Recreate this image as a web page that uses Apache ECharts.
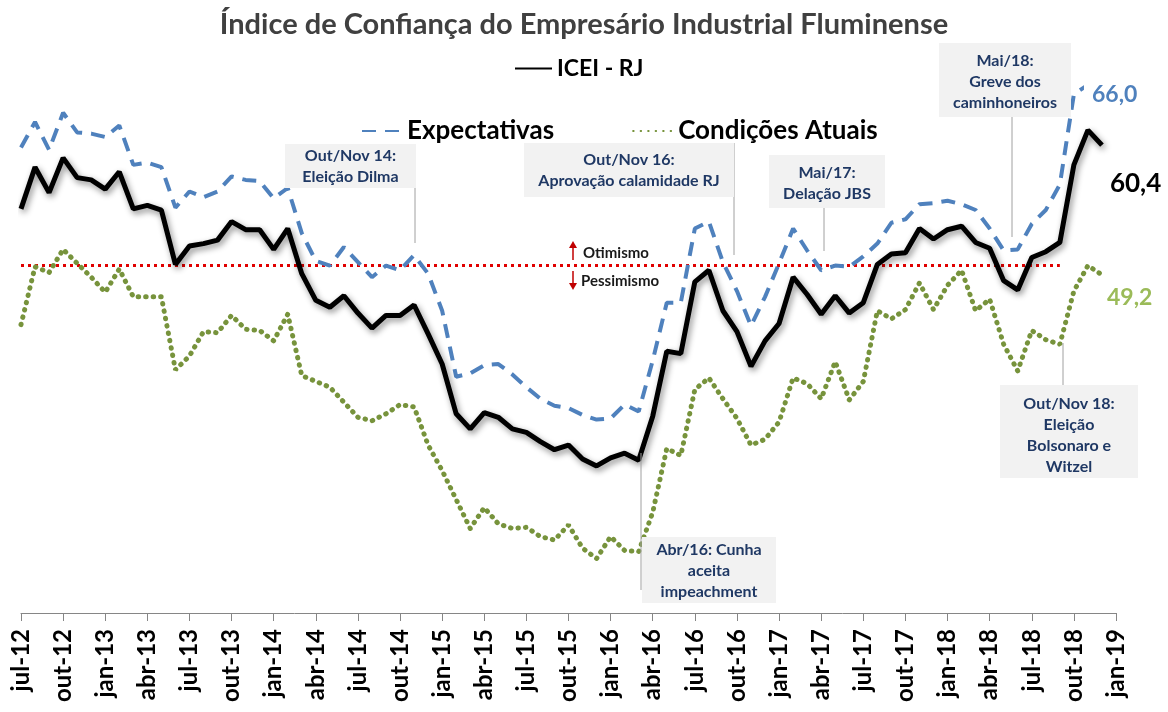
<!DOCTYPE html>
<html><head><meta charset="utf-8">
<script src="https://cdn.jsdelivr.net/npm/echarts@6/dist/echarts.min.js"></script>
<style>html,body{margin:0;padding:0;background:#fff}#c{width:1168px;height:712px}</style>
</head><body><div id="c"></div>
<script>
const months = [
 'jul-12','ago-12','set-12','out-12','nov-12','dez-12',
 'jan-13','fev-13','mar-13','abr-13','mai-13','jun-13','jul-13','ago-13','set-13','out-13','nov-13','dez-13',
 'jan-14','fev-14','mar-14','abr-14','mai-14','jun-14','jul-14','ago-14','set-14','out-14','nov-14','dez-14',
 'jan-15','fev-15','mar-15','abr-15','mai-15','jun-15','jul-15','ago-15','set-15','out-15','nov-15','dez-15',
 'jan-16','fev-16','mar-16','abr-16','mai-16','jun-16','jul-16','ago-16','set-16','out-16','nov-16','dez-16',
 'jan-17','fev-17','mar-17','abr-17','mai-17','jun-17','jul-17','ago-17','set-17','out-17','nov-17','dez-17',
 'jan-18','fev-18','mar-18','abr-18','mai-18','jun-18','jul-18','ago-18','set-18','out-18','nov-18','dez-18',
 'jan-19'
];
const icei = [
 54.9,58.5,56.3,59.3,57.6,57.4,56.6,58.1,54.9,55.2,54.8,50.1,
 51.7,51.9,52.2,53.8,53.1,53.1,51.4,53.2,49.3,47.0,46.4,47.4,
 45.9,44.6,45.7,45.7,46.6,44.1,41.5,37.2,35.9,37.3,36.9,35.9,
 35.6,34.8,34.1,34.5,33.3,32.7,33.4,33.8,33.2,37.0,42.6,42.4,
 48.6,49.6,46.1,44.3,41.3,43.5,45.0,49.0,47.5,45.8,47.4,45.9,
 46.8,50.1,51.0,51.1,53.2,52.3,53.1,53.4,52.0,51.5,48.7,47.9,
 50.7,51.2,52.0,58.7,61.7,60.4
];
const expectativas = [
 60.2,62.4,60.0,63.2,61.5,61.4,61.1,62.1,58.7,58.9,58.5,55.0,
 56.4,55.9,56.4,57.7,57.4,57.3,55.8,56.7,52.8,50.4,50.0,51.6,
 50.3,49.0,50.0,49.6,50.9,49.3,46.1,40.4,40.7,41.4,41.5,40.6,
 39.5,38.5,37.9,37.7,37.1,36.7,36.8,38.0,37.4,41.8,46.8,46.8,
 53.2,53.8,50.3,47.8,44.8,47.3,50.2,53.2,51.3,49.6,50.0,49.9,
 50.8,51.9,53.7,54.0,55.3,55.4,55.6,55.3,54.8,53.2,51.3,51.4,
 53.6,54.8,57.0,64.8,65.6,66.0
];
const condicoes = [
 44.9,49.9,49.4,51.4,50.2,49.0,47.7,49.7,47.3,47.3,47.3,41.0,
 42.2,44.3,44.2,45.7,44.5,44.4,43.5,45.8,40.5,40.0,39.5,38.2,
 36.9,36.6,37.2,38.0,37.8,34.5,32.3,29.8,27.3,29.1,27.7,27.3,
 27.4,26.6,26.3,27.6,25.6,24.7,26.6,25.4,25.3,28.7,34.2,33.6,
 39.3,40.3,38.5,36.8,34.5,35.0,36.5,40.3,39.8,38.5,41.7,38.4,
 40.0,46.1,45.4,46.2,48.5,46.2,48.3,49.6,46.1,47.1,43.2,40.9,
 44.4,43.6,43.2,47.8,50.0,49.2
];
const neutral = 50;
const neutralFrom = 'jul-12', neutralTo = 'set-18';
const yMin = 20, yMax = 70;

const FONT = 'Lato, "Open Sans", sans-serif';
const fmt = p => Number(p.value).toFixed(1).replace('.', ',');
const NAVY = '#1f3864';

function box(x, y, w, h, text, cy) {
  return [
    {type:'rect', z:10, shape:{x:x, y:y, width:w, height:h}, style:{fill:'#f2f2f2'}},
    {type:'text', z:11, x:x + w/2, y:cy, style:{text:text, align:'center', verticalAlign:'middle',
      fill:NAVY, fontFamily:FONT, fontWeight:'bold', fontSize:16, lineHeight:21}}
  ];
}
function leader(x, y1, y2) {
  return {type:'line', z:9, shape:{x1:x, y1:y1, x2:x, y2:y2}, style:{stroke:'#a0a0a0', lineWidth:1}};
}

const chart = echarts.init(document.getElementById('c'), null, {renderer:'canvas'});
chart.setOption({
  animation:false,
  backgroundColor:'#fff',
  title:{text:'Índice de Confiança do Empresário Industrial Fluminense', left:'center', top:5,
    textStyle:{fontFamily:FONT, fontWeight:'bold', fontSize:29, color:'#404040'}},
  legend:[
    {data:['ICEI - RJ'], left:509, top:52, itemWidth:37, itemHeight:14, itemGap:10,
      itemStyle:{opacity:0},
      textStyle:{fontFamily:FONT, fontWeight:'bold', fontSize:23, color:'#000'}},
    {data:['Expectativas','Condições Atuais'], left:356, top:113, itemWidth:40, itemHeight:14, itemGap:78,
      itemStyle:{opacity:0},
      textStyle:{fontFamily:FONT, fontWeight:'bold', fontSize:26, color:'#000'}}
  ],
  grid:{left:21, right:52, top:34, bottom:99, containLabel:false},
  xAxis:{type:'category', data:months, boundaryGap:false,
    axisLine:{lineStyle:{color:'#868686', width:1}},
    axisTick:{interval:2, length:8, lineStyle:{color:'#868686'}},
    axisLabel:{interval:2, rotate:90, margin:16, fontFamily:FONT, fontWeight:'bold', fontSize:24, color:'#000'}},
  yAxis:{type:'value', min:yMin, max:yMax, show:false, splitLine:{show:false}},
  series:[
    {name:'Condições Atuais', type:'line', data:condicoes, symbol:'none', z:3,
      lineStyle:{color:'#77933c', width:5, type:[0.5,7], cap:'round'},
      itemStyle:{color:'#77933c'},
      endLabel:{show:true, formatter:fmt, color:'#9bbb59', fontFamily:FONT, fontWeight:'bold', fontSize:23, offset:[-3,23]}},
    {name:'Expectativas', type:'line', data:expectativas, symbol:'none', z:4,
      lineStyle:{color:'#4f81bd', width:4, type:[14,9]},
      itemStyle:{color:'#4f81bd'},
      endLabel:{show:true, formatter:fmt, color:'#4f81bd', fontFamily:FONT, fontWeight:'bold', fontSize:23,
        offset:[-26,14], backgroundColor:'#fff', padding:[11,4,2,8]}},
    {name:'ICEI - RJ', type:'line', data:icei, symbol:'none', z:5,
      lineStyle:{color:'#000', width:5, shadowColor:'rgba(0,0,0,0.45)', shadowBlur:6, shadowOffsetX:2, shadowOffsetY:3},
      itemStyle:{color:'#000'},
      endLabel:{show:true, formatter:fmt, color:'#000', fontFamily:FONT, fontWeight:'bold', fontSize:26, offset:[0,38]},
      markLine:{silent:true, symbol:'none', z:2, label:{show:false},
        lineStyle:{color:'#e00000', width:3, type:[3,4], shadowBlur:0, shadowOffsetX:0, shadowOffsetY:0},
        data:[[{coord:[neutralFrom, neutral]}, {coord:[neutralTo, neutral]}]]}}
  ],
  graphic:[
    leader(415, 187, 243), ...box(285, 144, 131, 44, 'Out/Nov 14:\nEleição Dilma', 166),
    leader(734, 143, 255), ...box(524, 143, 210, 54, 'Out/Nov 16:\nAprovação calamidade RJ', 170),
    leader(824, 208, 251), ...box(769, 155, 116, 53, 'Mai/17:\nDelação JBS', 183),
    leader(1012, 117, 237), ...box(939, 43, 132, 74, 'Mai/18:\nGreve dos\ncaminhoneiros', 82),
    leader(1063, 343, 385), ...box(1000, 385, 138, 93, 'Out/Nov 18:\nEleição\nBolsonaro e\nWitzel', 435),
    leader(641, 453, 590), ...box(642, 537, 134, 66, 'Abr/16: Cunha\naceita\nimpeachment', 571),
    {type:'line', z:12, shape:{x1:573, y1:260, x2:573, y2:247}, style:{stroke:'#c00000', lineWidth:1.5}},
    {type:'polygon', z:12, shape:{points:[[573,241],[569,248],[577,248]]}, style:{fill:'#c00000'}},
    {type:'line', z:12, shape:{x1:573, y1:271, x2:573, y2:284}, style:{stroke:'#c00000', lineWidth:1.5}},
    {type:'polygon', z:12, shape:{points:[[573,290],[569,283],[577,283]]}, style:{fill:'#c00000'}},
    {type:'text', z:12, x:583, y:253, style:{text:'Otimismo', align:'left', verticalAlign:'middle',
      fill:'#1a1a1a', fontFamily:FONT, fontWeight:'bold', fontSize:15}},
    {type:'text', z:12, x:581, y:281, style:{text:'Pessimismo', align:'left', verticalAlign:'middle',
      fill:'#1a1a1a', fontFamily:FONT, fontWeight:'bold', fontSize:15}}
  ]
});
</script></body></html>
